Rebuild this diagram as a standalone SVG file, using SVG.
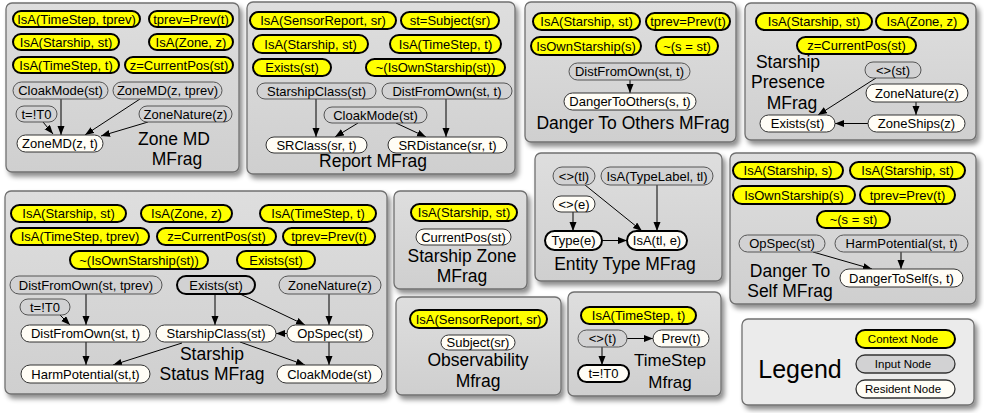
<svg xmlns="http://www.w3.org/2000/svg" width="984" height="413" viewBox="0 0 984 413">
<style>
.panel{fill:url(#pg);stroke:#707070;stroke-width:1.3;filter:url(#sh)}
.legendp{fill:#ebebeb;stroke:#707070;stroke-width:1.3;filter:url(#sh)}
.ctx{fill:#ffff00;stroke:#000;stroke-width:2}
.inp{fill:#d2d2d3;stroke:#555;stroke-width:1}
.res{fill:#fffdf6;stroke:#333;stroke-width:1}
.thick{stroke:#000;stroke-width:2}
text{font-family:"Liberation Sans",Arial,sans-serif;fill:#000}
.t{font-size:13px;text-anchor:middle}
.lt{font-size:11.5px;text-anchor:middle}
.title{font-size:17.5px;text-anchor:middle}
.edge{stroke:#000;stroke-width:1;fill:none;marker-end:url(#ah)}
</style>
<defs>
<linearGradient id="pg" x1="0" y1="0" x2="0" y2="1">
<stop offset="0" stop-color="#dedede"/>
<stop offset="1" stop-color="#cfcfcf"/>
</linearGradient>
<filter id="sh" x="-10%" y="-10%" width="125%" height="130%">
<feDropShadow dx="3" dy="4" stdDeviation="2.5" flood-color="#000" flood-opacity="0.45"/>
</filter>
<marker id="ah" markerWidth="10" markerHeight="8" refX="9" refY="3.5" orient="auto" markerUnits="userSpaceOnUse">
<path d="M0,0 L9,3.5 L0,7 z" fill="#000"/>
</marker>
</defs>
<rect width="984" height="413" fill="#ffffff"/>

<!-- Panels -->
<g id="panels">
<rect class="panel" x="6" y="3" width="233" height="169" rx="6"/>
<rect class="panel" x="247" y="2" width="268" height="172" rx="6"/>
<rect class="panel" x="525" y="2" width="211" height="140" rx="6"/>
<rect class="panel" x="745" y="3" width="231" height="137" rx="6"/>
<rect class="panel" x="5" y="191" width="382" height="203" rx="6"/>
<rect class="panel" x="394" y="191" width="133" height="98" rx="6"/>
<rect class="panel" x="396" y="297" width="165" height="98" rx="6"/>
<rect class="panel" x="535" y="153" width="187" height="128" rx="6"/>
<rect class="panel" x="568" y="292" width="153" height="104" rx="6"/>
<rect class="panel" x="730" y="153" width="246" height="151" rx="6"/>
<rect class="legendp" x="742" y="319" width="232" height="86" rx="6"/>
</g>

<!-- Titles -->
<g id="titles">
<text class="title" x="174" y="145">Zone MD</text>
<text class="title" x="177" y="165">MFrag</text>
<text class="title" x="373" y="167">Report MFrag</text>
<text class="title" x="633" y="129">Danger To Others MFrag</text>
<text class="title" x="788" y="68">Starship</text>
<text class="title" x="788" y="88">Presence</text>
<text class="title" x="792" y="109">MFrag</text>
<text class="title" x="212" y="360">Starship</text>
<text class="title" x="212" y="380">Status MFrag</text>
<text class="title" x="462" y="262">Starship Zone</text>
<text class="title" x="462" y="282">MFrag</text>
<text class="title" x="478" y="366">Observability</text>
<text class="title" x="478" y="387">Mfrag</text>
<text class="title" x="625" y="270">Entity Type MFrag</text>
<text class="title" x="670" y="366" style="font-size:17px">TimeStep</text>
<text class="title" x="670" y="388" style="font-size:17px">Mfrag</text>
<text class="title" x="790" y="277">Danger To</text>
<text class="title" x="790" y="297">Self MFrag</text>
<text x="800" y="378" style="font-size:25px;text-anchor:middle">Legend</text>
</g>

<!-- Connectors -->
<g id="connectors">
<line class="edge" x1="61" y1="99" x2="61" y2="135"/>
<line class="edge" x1="43" y1="122" x2="53" y2="134"/>
<line class="edge" x1="140" y1="99" x2="85" y2="135"/>
<line class="edge" x1="148" y1="122" x2="101" y2="136"/>

<line class="edge" x1="316" y1="99" x2="316" y2="137"/>
<line class="edge" x1="446" y1="99" x2="446" y2="137"/>
<line class="edge" x1="358" y1="123" x2="335" y2="137"/>
<line class="edge" x1="396" y1="123" x2="426" y2="137"/>

<line class="edge" x1="630" y1="80" x2="630" y2="93"/>

<line class="edge" x1="876" y1="78" x2="818" y2="115"/>
<line class="edge" x1="916" y1="102" x2="916" y2="115"/>
<line class="edge" x1="868" y1="123.5" x2="835" y2="123.5"/>

<line class="edge" x1="86" y1="294" x2="86" y2="325"/>
<line class="edge" x1="60" y1="315" x2="70" y2="325"/>
<line class="edge" x1="86" y1="342" x2="86" y2="365"/>
<line class="edge" x1="182" y1="343" x2="113" y2="365"/>
<line class="edge" x1="215" y1="294" x2="215" y2="325"/>
<line class="edge" x1="240" y1="294" x2="305" y2="325"/>
<line class="edge" x1="329" y1="294" x2="329" y2="325"/>
<line class="edge" x1="287" y1="333.5" x2="276" y2="333.5"/>
<line class="edge" x1="240" y1="342" x2="305" y2="365"/>
<line class="edge" x1="329" y1="342" x2="329" y2="365"/>

<line class="edge" x1="585" y1="185" x2="642" y2="231"/>
<line class="edge" x1="657" y1="185" x2="657" y2="231"/>
<line class="edge" x1="573" y1="212" x2="573" y2="231"/>
<line class="edge" x1="602" y1="240.5" x2="627" y2="240.5"/>

<line class="edge" x1="627" y1="338.5" x2="653" y2="338.5"/>
<line class="edge" x1="602" y1="347" x2="602" y2="365"/>

<line class="edge" x1="813" y1="252" x2="872" y2="269"/>
<line class="edge" x1="901" y1="252" x2="901" y2="269"/>
</g>

<!-- Zone MD MFrag -->
<g id="z_isa_ts_tprev"><rect class="ctx" x="13" y="11" width="127" height="16" rx="8"/><text class="t" x="76.5" y="23.5">IsA(TimeStep, tprev)</text></g>
<g id="z_tprev"><rect class="ctx" x="149" y="11" width="84" height="16" rx="8"/><text class="t" x="191" y="23.5">tprev=Prev(t)</text></g>
<g id="z_isa_st"><rect class="ctx" x="13" y="34" width="106" height="16" rx="8"/><text class="t" x="66" y="46.5">IsA(Starship, st)</text></g>
<g id="z_isa_zone"><rect class="ctx" x="149" y="34" width="84" height="16" rx="8"/><text class="t" x="191" y="46.5">IsA(Zone, z)</text></g>
<g id="z_isa_ts_t"><rect class="ctx" x="13" y="57" width="106" height="16" rx="8"/><text class="t" x="66" y="69.5">IsA(TimeStep, t)</text></g>
<g id="z_curpos"><rect class="ctx" x="125" y="57" width="108" height="16" rx="8"/><text class="t" x="179" y="69.5">z=CurrentPos(st)</text></g>
<g id="z_cloak"><rect class="inp" x="13" y="82" width="95" height="17" rx="8.5"/><text class="t" x="60.5" y="95">CloakMode(st)</text></g>
<g id="z_zonemd_tprev"><rect class="inp" x="113" y="82" width="109" height="17" rx="8.5"/><text class="t" x="167.5" y="95">ZoneMD(z, tprev)</text></g>
<g id="z_t0"><rect class="inp" x="16" y="106" width="41" height="16" rx="8"/><text class="t" x="36.5" y="118.5">t=!T0</text></g>
<g id="z_zonenature"><rect class="inp" x="139" y="106" width="93" height="16" rx="8"/><text class="t" x="185.5" y="118.5">ZoneNature(z)</text></g>
<g id="z_zonemd"><rect class="res" x="17" y="135" width="86" height="17" rx="8.5"/><text class="t" x="60" y="148">ZoneMD(z, t)</text></g>

<!-- Report MFrag -->
<g id="r_isa_sr"><rect class="ctx" x="250" y="12" width="146" height="17" rx="8.5"/><text class="t" x="323" y="25">IsA(SensorReport, sr)</text></g>
<g id="r_subject"><rect class="ctx" x="401" y="12" width="98" height="17" rx="8.5"/><text class="t" x="450" y="25">st=Subject(sr)</text></g>
<g id="r_isa_st"><rect class="ctx" x="253" y="35" width="115" height="18" rx="9"/><text class="t" x="310.5" y="48.5">IsA(Starship, st)</text></g>
<g id="r_isa_ts"><rect class="ctx" x="390" y="35" width="111" height="18" rx="9"/><text class="t" x="445.5" y="48.5">IsA(TimeStep, t)</text></g>
<g id="r_exists"><rect class="ctx" x="253" y="59" width="78" height="17" rx="8.5"/><text class="t" x="292" y="72">Exists(st)</text></g>
<g id="r_notown"><rect class="ctx" x="366" y="59" width="139" height="17" rx="8.5"/><text class="t" x="435.5" y="72">~(IsOwnStarship(st))</text></g>
<g id="r_class"><rect class="inp" x="257" y="83" width="119" height="16" rx="8"/><text class="t" x="316.5" y="95.5">StarshipClass(st)</text></g>
<g id="r_dist"><rect class="inp" x="382" y="83" width="130" height="16" rx="8"/><text class="t" x="447" y="95.5">DistFromOwn(st, t)</text></g>
<g id="r_cloak"><rect class="inp" x="324" y="107" width="103" height="16" rx="8"/><text class="t" x="375.5" y="119.5">CloakMode(st)</text></g>
<g id="r_srclass"><rect class="res" x="266" y="137" width="101" height="16" rx="8"/><text class="t" x="316.5" y="149.5">SRClass(sr, t)</text></g>
<g id="r_srdist"><rect class="res" x="388" y="137" width="119" height="16" rx="8"/><text class="t" x="447.5" y="149.5">SRDistance(sr, t)</text></g>

<!-- Danger To Others MFrag -->
<g id="o_isa_st"><rect class="ctx" x="533" y="13" width="107" height="17" rx="8.5"/><text class="t" x="586.5" y="26">IsA(Starship, st)</text></g>
<g id="o_tprev"><rect class="ctx" x="646" y="13" width="84" height="17" rx="8.5"/><text class="t" x="688" y="26">tprev=Prev(t)</text></g>
<g id="o_own"><rect class="ctx" x="531" y="37" width="110" height="18" rx="9"/><text class="t" x="586" y="50.5">IsOwnStarship(s)</text></g>
<g id="o_neq"><rect class="ctx" x="656" y="37" width="62" height="18" rx="9"/><text class="t" x="687" y="50.5">~(s = st)</text></g>
<g id="o_dist"><rect class="inp" x="569" y="63" width="121" height="17" rx="8.5"/><text class="t" x="629.5" y="76">DistFromOwn(st, t)</text></g>
<g id="o_danger"><rect class="res" x="564" y="93" width="132" height="17" rx="8.5"/><text class="t" x="630" y="106">DangerToOthers(s, t)</text></g>

<!-- Starship Presence MFrag -->
<g id="p_isa_st"><rect class="ctx" x="756" y="13" width="116" height="17" rx="8.5"/><text class="t" x="814" y="26">IsA(Starship, st)</text></g>
<g id="p_isa_zone"><rect class="ctx" x="876" y="13" width="92" height="17" rx="8.5"/><text class="t" x="922" y="26">IsA(Zone, z)</text></g>
<g id="p_curpos"><rect class="ctx" x="797" y="37" width="119" height="17" rx="8.5"/><text class="t" x="856.5" y="50">z=CurrentPos(st)</text></g>
<g id="p_st"><rect class="inp" x="865" y="62" width="56" height="16" rx="8"/><text class="t" x="893" y="74.5">&lt;&gt;(st)</text></g>
<g id="p_zonenature"><rect class="res" x="866" y="84" width="102" height="18" rx="9"/><text class="t" x="917" y="97.5">ZoneNature(z)</text></g>
<g id="p_exists"><rect class="res" x="760" y="115" width="75" height="17" rx="8.5"/><text class="t" x="797.5" y="128">Exists(st)</text></g>
<g id="p_zoneships"><rect class="res" x="868" y="115" width="97" height="17" rx="8.5"/><text class="t" x="916.5" y="128">ZoneShips(z)</text></g>

<!-- Starship Status MFrag -->
<g id="s_isa_st"><rect class="ctx" x="11" y="205" width="115" height="17" rx="8.5"/><text class="t" x="68.5" y="218">IsA(Starship, st)</text></g>
<g id="s_isa_zone"><rect class="ctx" x="141" y="205" width="91" height="17" rx="8.5"/><text class="t" x="186.5" y="218">IsA(Zone, z)</text></g>
<g id="s_isa_ts"><rect class="ctx" x="260" y="205" width="116" height="17" rx="8.5"/><text class="t" x="318" y="218">IsA(TimeStep, t)</text></g>
<g id="s_isa_tprev"><rect class="ctx" x="11" y="228" width="138" height="17" rx="8.5"/><text class="t" x="80" y="241">IsA(TimeStep, tprev)</text></g>
<g id="s_curpos"><rect class="ctx" x="157" y="228" width="119" height="17" rx="8.5"/><text class="t" x="216.5" y="241">z=CurrentPos(st)</text></g>
<g id="s_tprev"><rect class="ctx" x="283" y="228" width="92" height="17" rx="8.5"/><text class="t" x="329" y="241">tprev=Prev(t)</text></g>
<g id="s_notown"><rect class="ctx" x="70" y="251" width="138" height="18" rx="9"/><text class="t" x="139" y="264.5">~(IsOwnStarship(st))</text></g>
<g id="s_exists"><rect class="ctx" x="237" y="251" width="78" height="18" rx="9"/><text class="t" x="276" y="264.5">Exists(st)</text></g>
<g id="s_dist_tprev"><rect class="inp" x="10" y="276" width="152" height="18" rx="9"/><text class="t" x="86" y="289.5">DistFromOwn(st, tprev)</text></g>
<g id="s_exists_in"><rect class="inp thick" x="177" y="276" width="78" height="18" rx="9"/><text class="t" x="216" y="289.5">Exists(st)</text></g>
<g id="s_zonenature"><rect class="inp" x="279" y="276" width="102" height="18" rx="9"/><text class="t" x="330" y="289.5">ZoneNature(z)</text></g>
<g id="s_t0"><rect class="inp" x="20" y="299" width="50" height="16" rx="8"/><text class="t" x="45" y="311.5">t=!T0</text></g>
<g id="s_dist_t"><rect class="res" x="21" y="325" width="129" height="17" rx="8.5"/><text class="t" x="85.5" y="338">DistFromOwn(st, t)</text></g>
<g id="s_class"><rect class="res" x="156" y="325" width="120" height="17" rx="8.5"/><text class="t" x="216" y="338">StarshipClass(st)</text></g>
<g id="s_opspec"><rect class="res" x="287" y="325" width="86" height="17" rx="8.5"/><text class="t" x="330" y="338">OpSpec(st)</text></g>
<g id="s_harm"><rect class="res" x="21" y="365" width="129" height="18" rx="9"/><text class="t" x="85.5" y="378.5">HarmPotential(st,t)</text></g>
<g id="s_cloak"><rect class="res" x="277" y="365" width="105" height="18" rx="9"/><text class="t" x="329.5" y="378.5">CloakMode(st)</text></g>

<!-- Starship Zone MFrag -->
<g id="sz_isa"><rect class="ctx" x="411" y="204" width="106" height="17" rx="8.5"/><text class="t" x="464" y="217">IsA(Starship, st)</text></g>
<g id="sz_curpos"><rect class="res" x="416" y="229" width="95" height="16" rx="8"/><text class="t" x="463.5" y="241.5">CurrentPos(st)</text></g>

<!-- Observability Mfrag -->
<g id="ob_isa"><rect class="ctx" x="410" y="310" width="137" height="18" rx="9"/><text class="t" x="478.5" y="323.5">IsA(SensorReport, sr)</text></g>
<g id="ob_subject"><rect class="res" x="441" y="335" width="74" height="15" rx="7.5"/><text class="t" x="478" y="347">Subject(sr)</text></g>

<!-- Entity Type MFrag -->
<g id="e_tl"><rect class="inp" x="553" y="167" width="42" height="18" rx="9"/><text class="t" x="574" y="180.5">&lt;&gt;(tl)</text></g>
<g id="e_isa_tl"><rect class="inp" x="601" y="167" width="112" height="18" rx="9"/><text class="t" x="657" y="180.5">IsA(TypeLabel, tl)</text></g>
<g id="e_e"><rect class="res" x="553" y="196" width="42" height="16" rx="8"/><text class="t" x="574" y="208.5">&lt;&gt;(e)</text></g>
<g id="e_type"><rect class="res thick" x="545" y="231" width="57" height="19" rx="9.5"/><text class="t" x="573.5" y="245">Type(e)</text></g>
<g id="e_isa_tle"><rect class="res thick" x="627" y="231" width="60" height="19" rx="9.5"/><text class="t" x="657" y="245">IsA(tl, e)</text></g>

<!-- TimeStep Mfrag -->
<g id="ts_isa"><rect class="ctx" x="581" y="307" width="115" height="17" rx="8.5"/><text class="t" x="638.5" y="320">IsA(TimeStep, t)</text></g>
<g id="ts_t"><rect class="inp" x="578" y="330" width="49" height="17" rx="8.5"/><text class="t" x="602.5" y="343">&lt;&gt;(t)</text></g>
<g id="ts_prev"><rect class="res" x="653" y="330" width="56" height="17" rx="8.5"/><text class="t" x="681" y="343">Prev(t)</text></g>
<g id="ts_t0"><rect class="res thick" x="578" y="365" width="51" height="17" rx="8.5"/><text class="t" x="603.5" y="378">t=!T0</text></g>

<!-- Danger To Self MFrag -->
<g id="d_isa_s"><rect class="ctx" x="733" y="162" width="110" height="17" rx="8.5"/><text class="t" x="788" y="175">IsA(Starship, s)</text></g>
<g id="d_isa_st"><rect class="ctx" x="850" y="162" width="115" height="17" rx="8.5"/><text class="t" x="907.5" y="175">IsA(Starship, st)</text></g>
<g id="d_own"><rect class="ctx" x="733" y="186" width="122" height="18" rx="9"/><text class="t" x="794" y="199.5">IsOwnStarship(s)</text></g>
<g id="d_tprev"><rect class="ctx" x="860" y="186" width="95" height="18" rx="9"/><text class="t" x="907.5" y="199.5">tprev=Prev(t)</text></g>
<g id="d_neq"><rect class="ctx" x="817" y="211" width="73" height="17" rx="8.5"/><text class="t" x="853.5" y="224">~(s = st)</text></g>
<g id="d_opspec"><rect class="inp" x="739" y="235" width="86" height="17" rx="8.5"/><text class="t" x="782" y="248">OpSpec(st)</text></g>
<g id="d_harm"><rect class="inp" x="835" y="235" width="133" height="17" rx="8.5"/><text class="t" x="901.5" y="248">HarmPotential(st, t)</text></g>
<g id="d_danger"><rect class="res" x="840" y="269" width="123" height="18" rx="9"/><text class="t" x="901.5" y="282.5">DangerToSelf(s, t)</text></g>

<!-- Legend -->
<g id="lg_ctx"><rect class="ctx" x="856" y="330" width="99" height="18" rx="9"/><text class="lt" x="903" y="343">Context Node</text></g>
<g id="lg_inp"><rect class="inp" x="856" y="355" width="99" height="18" rx="9" style="stroke:#333;stroke-width:1.3"/><text class="lt" x="903" y="368">Input Node</text></g>
<g id="lg_res"><rect class="res" x="856" y="380" width="99" height="18" rx="9" style="stroke:#333;stroke-width:1.3"/><text class="lt" x="903" y="393">Resident Node</text></g>
</svg>
